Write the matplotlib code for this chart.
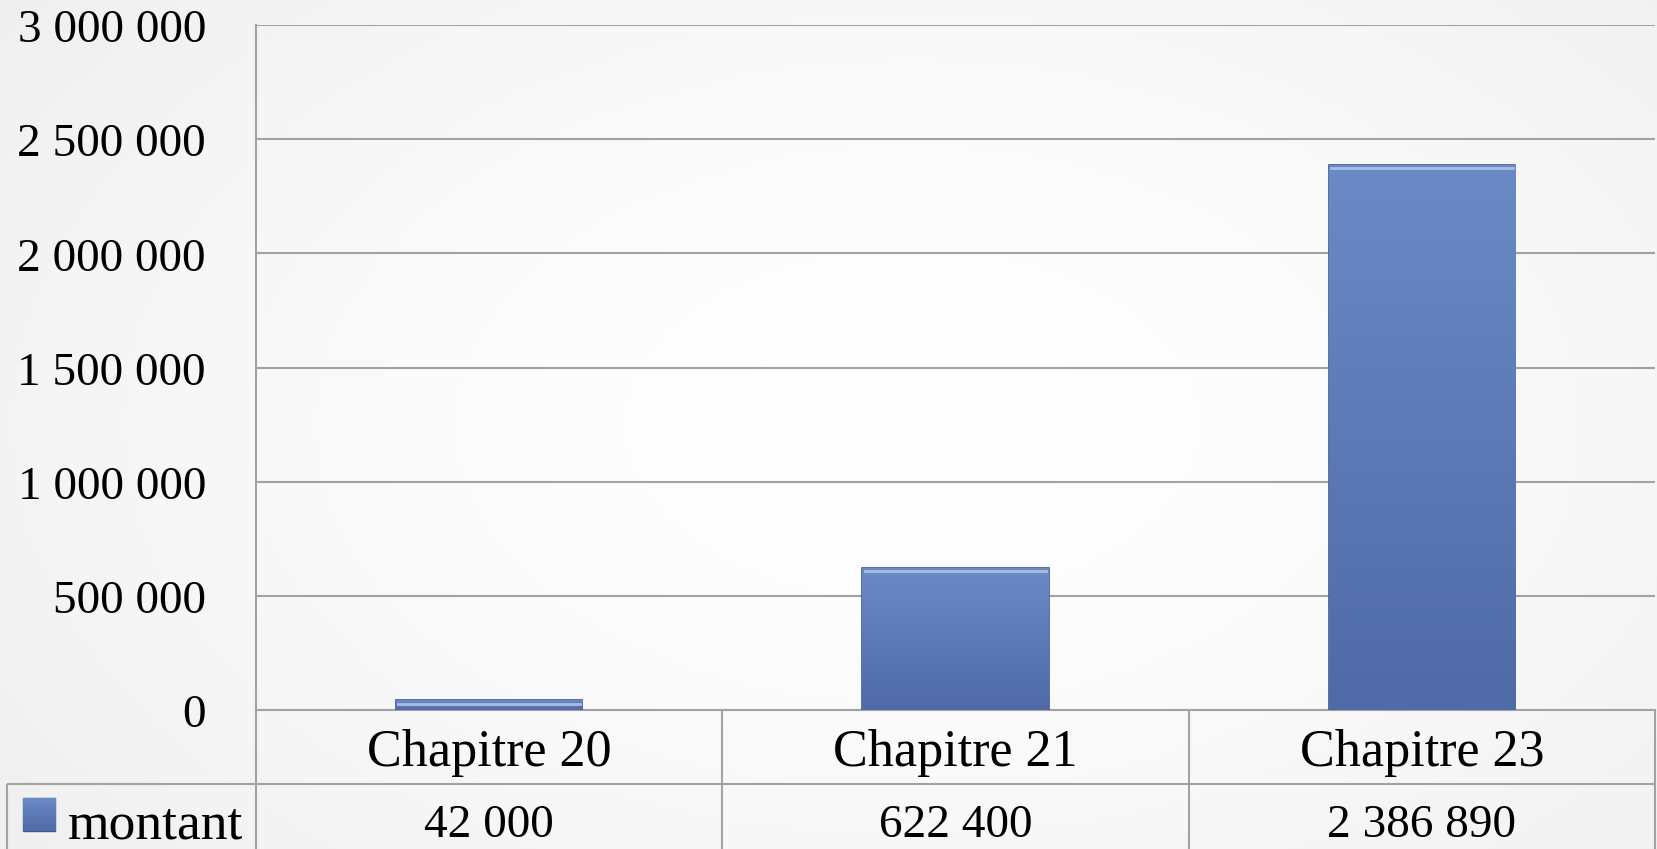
import numpy as np
import matplotlib
matplotlib.use("Agg")
import matplotlib.pyplot as plt
import matplotlib.transforms as mtransforms
from matplotlib.patches import Rectangle
from matplotlib.ticker import FuncFormatter

categories = ["Chapitre 20", "Chapitre 21", "Chapitre 23"]
series_name = "montant"
montant = [42000, 622400, 2386890]
y_ticks = [0, 500000, 1000000, 1500000, 2000000, 2500000, 3000000]

W, H = 1658, 849
plt.rcParams['font.family'] = ['Liberation Serif', 'DejaVu Serif']
grid_col = "#a2a2a2"


def fmt(v, pos=None):
    return f"{int(v):,}".replace(",", " ")


def bar_gradient(ax, patch, extent):
    # vertical blue gradient, lighter at the top, clipped to the bar
    g = np.linspace(0, 1, 256).reshape(-1, 1)
    top = np.array([0x6a, 0x8a, 0xc6]) / 255
    bot = np.array([0x4f, 0x6a, 0xa7]) / 255
    img = bot + (top - bot) * g[..., None]
    img = np.repeat(img, 2, axis=1)
    im = ax.imshow(img, extent=extent, origin="lower", aspect="auto",
                   zorder=patch.get_zorder() + 0.1, interpolation="bilinear")
    im.set_clip_path(patch)


fig = plt.figure(figsize=(W / 100, H / 100), dpi=100)
down = mtransforms.ScaledTranslation(0, -0.06, fig.dpi_scale_trans)

# soft grey background
bg = fig.add_axes([0, 0, 1, 1], zorder=-10)
yy, xx = np.mgrid[0:1:200j, 0:1:400j]
d = np.sqrt(((xx - 0.55) / 0.75) ** 2 + ((yy - 0.5) / 0.9) ** 2)
shade = 1.0 - 0.07 * np.clip(d, 0, 1) ** 1.5
bg.imshow(np.dstack([shade] * 3), extent=[0, 1, 0, 1], aspect="auto")
bg.axis("off")

# main plot area
ax = fig.add_axes([256 / W, (H - 710) / H, (1655 - 256) / W, (710 - 25) / H])
ax.patch.set_alpha(0)
x = np.arange(len(categories))
bars = ax.bar(x, montant, width=0.4, color="#5b7bbb", edgecolor="#3f5890",
              linewidth=1.2, zorder=3)
for b in bars:
    bar_gradient(ax, b, [b.get_x(), b.get_x() + b.get_width(), 0, b.get_height()])
    # light top rim
    ax.plot([b.get_x() + 0.005, b.get_x() + b.get_width() - 0.005],
            [b.get_height() - 15000] * 2, color="#a9bde3", lw=2, zorder=5)

ax.set_xlim(-0.5, 2.5)
ax.set_ylim(0, 3000000)
ax.set_yticks(y_ticks)
ax.yaxis.set_major_formatter(FuncFormatter(fmt))
ax.set_xticks([])
ax.tick_params(axis="y", length=0, pad=36, labelsize=34)
for lab in ax.get_yticklabels():
    lab.set_verticalalignment("center")
    lab.set_transform(lab.get_transform() + down)
ax.grid(axis="y", color=grid_col, lw=1.5, zorder=0)
ax.set_axisbelow(True)
for s in ["right", "top"]:
    ax.spines[s].set_visible(False)
for s in ["left", "bottom"]:
    ax.spines[s].set_color(grid_col)
    ax.spines[s].set_linewidth(1.5)

# data table under the chart
tx = fig.add_axes([7 / W, 0, (1655 - 7) / W, 139 / H])
left_edge = -0.5 - (256 - 7) / 466
tx.set_xlim(left_edge, 2.5)
tx.set_ylim(2 - 139 / 74, 2)
tx.axis("off")
lk = dict(color=grid_col, lw=1.5, clip_on=False, solid_capstyle="butt")
tx.plot([left_edge, 2.5], [1, 1], **lk)
tx.plot([left_edge, left_edge], [0, 1], **lk)
for b in np.arange(-0.5, 3, 1.0):
    tx.plot([b, b], [0, 2], **lk)
for i, (c, v) in enumerate(zip(categories, montant)):
    tx.text(i, 1.5, c, ha="center", va="center", fontsize=37.5,
            transform=tx.transData + down)
    tx.text(i, 0.52, fmt(v), ha="center", va="center", fontsize=34,
            transform=tx.transData + down)

# legend key + series name
kx0 = left_edge + (23 - 7) / 466
kw = 32 / 466
key = Rectangle((kx0, 0.37), kw, 33 / 74, facecolor="#5b7bbb",
                edgecolor="#3f5890", lw=1, zorder=3)
tx.add_patch(key)
bar_gradient(tx, key, [kx0, kx0 + kw, 0.37, 0.37 + 33 / 74])
tx.text(left_edge + (68 - 7) / 466, 0.52, series_name, ha="left",
        va="center", fontsize=38.5, transform=tx.transData + down)

fig.savefig("out.png", dpi=100)
